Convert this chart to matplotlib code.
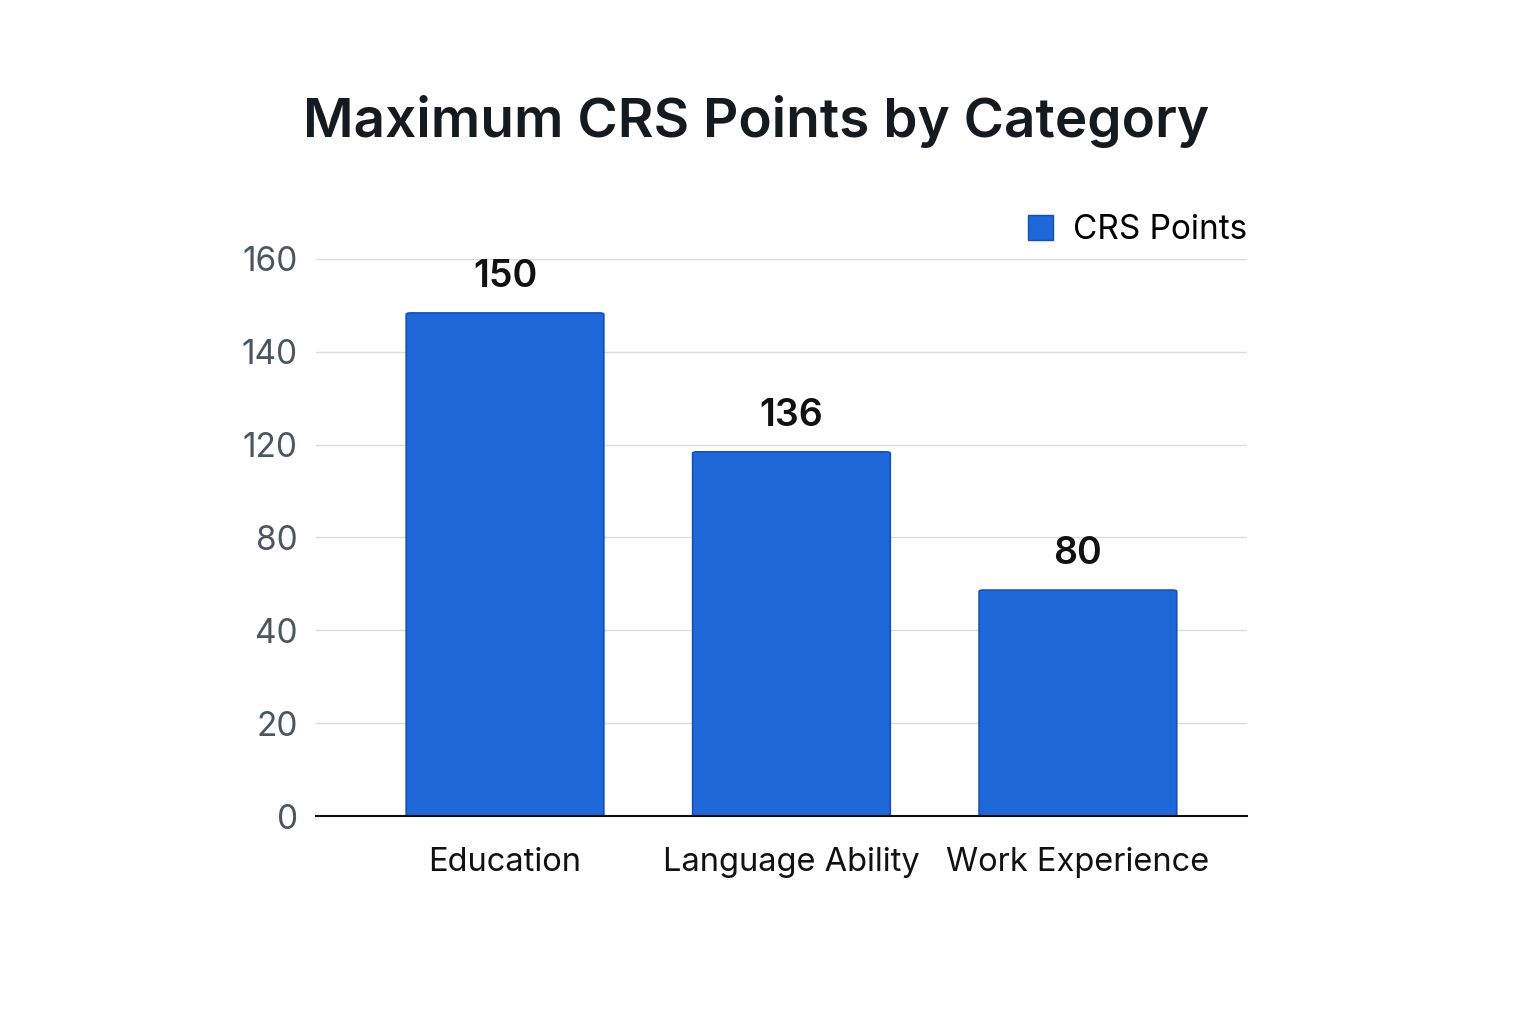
import numpy as np
import matplotlib.pyplot as plt
from matplotlib.patches import FancyBboxPatch, Patch

plt.rcParams['font.family'] = ['Inter', 'DejaVu Sans']

categories = ["Education", "Language Ability", "Work Experience"]
value_labels = ["150", "136", "80"]
# bar heights as drawn in the picture (axis 0-160, evenly spaced gridlines)
bar_heights = [144.5, 104.6, 64.9]
tick_labels = ["0", "20", "40", "80", "120", "140", "160"]

bar_color = "#1e68d9"
edge_color = "#1550b8"

fig = plt.figure(figsize=(15.36, 10.24), dpi=100)
ax = fig.add_axes([0.2057, 0.2031, 0.6061, 0.5440])

x = np.arange(len(categories))
bars = ax.bar(x, bar_heights, width=0.69, color=bar_color)

# swap the plain rectangles for slightly rounded ones
for b in bars:
    bx, by = b.get_x(), b.get_y()
    bw, bh = b.get_width(), b.get_height()
    b.set_visible(False)
    ax.add_patch(FancyBboxPatch((bx, by), bw, bh,
                                boxstyle="round,pad=0,rounding_size=0.015",
                                mutation_aspect=160 / 3.25 * 0.6,
                                facecolor=bar_color, edgecolor=edge_color,
                                linewidth=1.2, zorder=3))

for xi, h, lab in zip(x, bar_heights, value_labels):
    ax.annotate(lab, (xi, h), xytext=(0, 26), textcoords="offset points",
                ha="center", va="center", fontsize=27, fontweight="semibold",
                color="#111111")

ax.set_xlim(-0.66, 2.59)
ax.set_ylim(0, 160)
ax.set_yticks(np.linspace(0, 160, len(tick_labels)))
ax.set_yticklabels(tick_labels)
ax.set_xticks(x)
ax.set_xticklabels(categories)
ax.tick_params(axis="y", length=0, pad=13, labelsize=24, labelcolor="#4a5763")
ax.tick_params(axis="x", length=0, pad=22, labelsize=23.5, labelcolor="#111111")

ax.grid(axis="y", color="#dcdcdc", linewidth=1)
ax.set_axisbelow(True)
for s in ["top", "right", "left"]:
    ax.spines[s].set_visible(False)
ax.spines["bottom"].set_color("#111111")
ax.spines["bottom"].set_linewidth(1.5)
ax.spines["bottom"].set_zorder(4)

handle = Patch(facecolor=bar_color, edgecolor=edge_color, label="CRS Points")
ax.legend(handles=[handle], loc="center right", bbox_to_anchor=(1.0, 1.052),
          frameon=False, fontsize=24, handlelength=0.75, handleheight=0.75,
          handletextpad=0.6, borderaxespad=0, borderpad=0)

fig.text(0.4925, 0.881, "Maximum CRS Points by Category", ha="center",
         va="center", fontsize=39.5, fontweight="semibold", color="#141a1f")

fig.savefig("out.png", dpi=100, facecolor="white")
